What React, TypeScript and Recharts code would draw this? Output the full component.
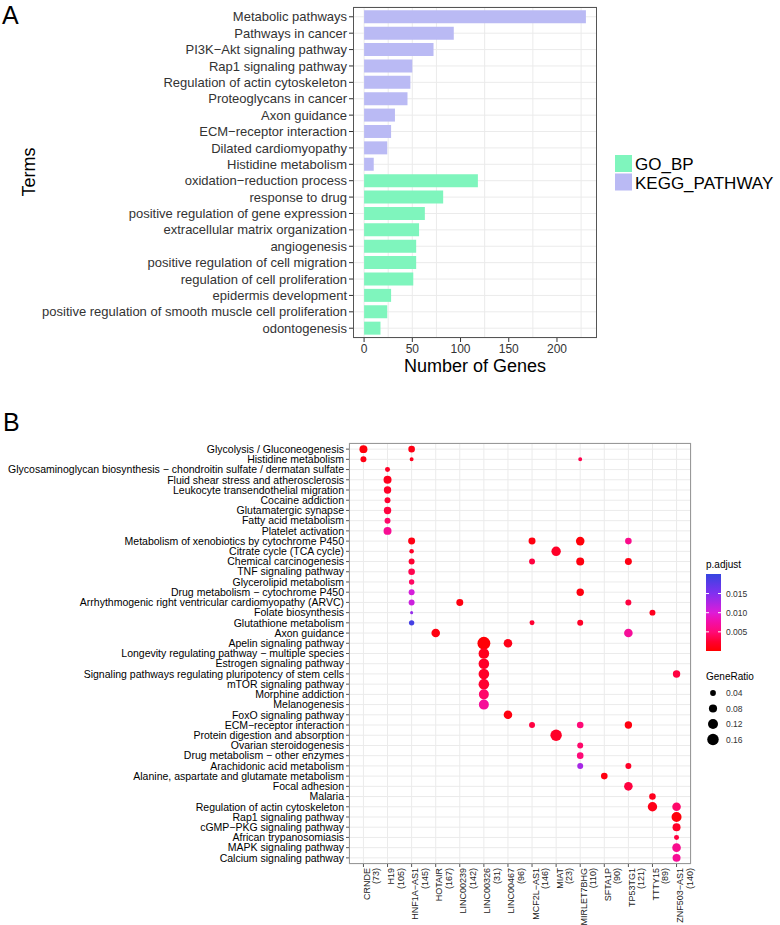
import React from 'react';
import {
  BarChart,
  Bar,
  XAxis,
  YAxis,
  ZAxis,
  CartesianGrid,
  Cell,
  ScatterChart,
  Scatter,
} from 'recharts';

const FONT = '"Liberation Sans", Arial, Helvetica, sans-serif';

// ---- Panel A: enriched terms ----
const terms = [
  'Metabolic pathways',
  'Pathways in cancer',
  'PI3K\u2212Akt signaling pathway',
  'Rap1 signaling pathway',
  'Regulation of actin cytoskeleton',
  'Proteoglycans in cancer',
  'Axon guidance',
  'ECM\u2212receptor interaction',
  'Dilated cardiomyopathy',
  'Histidine metabolism',
  'oxidation\u2212reduction process',
  'response to drug',
  'positive regulation of gene expression',
  'extracellular matrix organization',
  'angiogenesis',
  'positive regulation of cell migration',
  'regulation of cell proliferation',
  'epidermis development',
  'positive regulation of smooth muscle cell proliferation',
  'odontogenesis',
];
const geneCounts = [230, 93, 72, 50, 48, 45, 32, 28, 24, 10, 118, 82, 63, 57, 54, 54, 51, 28, 24, 17];
const termSources = [
  'KEGG_PATHWAY', 'KEGG_PATHWAY', 'KEGG_PATHWAY', 'KEGG_PATHWAY', 'KEGG_PATHWAY',
  'KEGG_PATHWAY', 'KEGG_PATHWAY', 'KEGG_PATHWAY', 'KEGG_PATHWAY', 'KEGG_PATHWAY',
  'GO_BP', 'GO_BP', 'GO_BP', 'GO_BP', 'GO_BP',
  'GO_BP', 'GO_BP', 'GO_BP', 'GO_BP', 'GO_BP',
];
const sourceNames = ['GO_BP', 'KEGG_PATHWAY'];
const countTicks = [0, 50, 100, 150, 200];
const countGrid = [0, 25, 50, 75, 100, 125, 150, 175, 200, 225];

const SOURCE_COLORS: Record<string, string> = {
  GO_BP: '#7FF5BD',
  KEGG_PATHWAY: '#BABAF4',
};

// ---- Panel B: lncRNA pathway enrichment ----
const lncRNAs = [
  'CRNDE', 'H19', 'HNF1A\u2212AS1', 'HOTAIR', 'LINC00239', 'LINC00326', 'LINC00467',
  'MCF2L\u2212AS1', 'MIAT', 'MIRLET7BHG', 'SFTA1P', 'TP53TG1', 'TTTY15', 'ZNF503\u2212AS1',
];
const lncGeneCounts = [73, 105, 145, 167, 142, 31, 96, 146, 23, 110, 90, 121, 89, 140];

const pathways = [
  'Glycolysis / Gluconeogenesis',
  'Histidine metabolism',
  'Glycosaminoglycan biosynthesis \u2212 chondroitin sulfate / dermatan sulfate',
  'Fluid shear stress and atherosclerosis',
  'Leukocyte transendothelial migration',
  'Cocaine addiction',
  'Glutamatergic synapse',
  'Fatty acid metabolism',
  'Platelet activation',
  'Metabolism of xenobiotics by cytochrome P450',
  'Citrate cycle (TCA cycle)',
  'Chemical carcinogenesis',
  'TNF signaling pathway',
  'Glycerolipid metabolism',
  'Drug metabolism \u2212 cytochrome P450',
  'Arrhythmogenic right ventricular cardiomyopathy (ARVC)',
  'Folate biosynthesis',
  'Glutathione metabolism',
  'Axon guidance',
  'Apelin signaling pathway',
  'Longevity regulating pathway \u2212 multiple species',
  'Estrogen signaling pathway',
  'Signaling pathways regulating pluripotency of stem cells',
  'mTOR signaling pathway',
  'Morphine addiction',
  'Melanogenesis',
  'FoxO signaling pathway',
  'ECM\u2212receptor interaction',
  'Protein digestion and absorption',
  'Ovarian steroidogenesis',
  'Drug metabolism \u2212 other enzymes',
  'Arachidonic acid metabolism',
  'Alanine, aspartate and glutamate metabolism',
  'Focal adhesion',
  'Malaria',
  'Regulation of actin cytoskeleton',
  'Rap1 signaling pathway',
  'cGMP\u2212PKG signaling pathway',
  'African trypanosomiasis',
  'MAPK signaling pathway',
  'Calcium signaling pathway',
];

// [pathway, lncRNA, GeneRatio, p.adjust]
const enrichment: [string, string, number, number][] = [
  [pathways[0], 'CRNDE', 0.077, 0.0005],
  [pathways[0], lncRNAs[2], 0.053, 0.001],
  [pathways[1], 'CRNDE', 0.043, 0.001],
  [pathways[1], lncRNAs[2], 0.019, 0.0015],
  [pathways[1], 'MIRLET7BHG', 0.019, 0.0035],
  [pathways[2], 'H19', 0.03, 0.002],
  [pathways[3], 'H19', 0.077, 0.0015],
  [pathways[4], 'H19', 0.066, 0.002],
  [pathways[5], 'H19', 0.043, 0.0025],
  [pathways[6], 'H19', 0.066, 0.003],
  [pathways[7], 'H19', 0.043, 0.0045],
  [pathways[8], 'H19', 0.077, 0.0065],
  [pathways[9], lncRNAs[2], 0.059, 0.001],
  [pathways[9], lncRNAs[7], 0.059, 0.0008],
  [pathways[9], 'MIRLET7BHG', 0.089, 0.0005],
  [pathways[9], 'TP53TG1', 0.053, 0.006],
  [pathways[10], lncRNAs[2], 0.025, 0.002],
  [pathways[10], 'MIAT', 0.107, 0.002],
  [pathways[11], lncRNAs[2], 0.043, 0.0025],
  [pathways[11], lncRNAs[7], 0.043, 0.003],
  [pathways[11], 'MIRLET7BHG', 0.077, 0.0008],
  [pathways[11], 'TP53TG1', 0.059, 0.001],
  [pathways[12], lncRNAs[2], 0.053, 0.0035],
  [pathways[13], lncRNAs[2], 0.035, 0.0042],
  [pathways[14], lncRNAs[2], 0.043, 0.0105],
  [pathways[14], 'MIRLET7BHG', 0.066, 0.0008],
  [pathways[15], lncRNAs[2], 0.043, 0.011],
  [pathways[15], 'LINC00239', 0.059, 0.0008],
  [pathways[15], 'TP53TG1', 0.043, 0.003],
  [pathways[16], lncRNAs[2], 0.011, 0.014],
  [pathways[16], 'TTTY15', 0.043, 0.0015],
  [pathways[17], lncRNAs[2], 0.035, 0.019],
  [pathways[17], lncRNAs[7], 0.03, 0.0025],
  [pathways[17], 'MIRLET7BHG', 0.043, 0.002],
  [pathways[18], 'HOTAIR', 0.089, 0.0008],
  [pathways[18], 'TP53TG1', 0.089, 0.0068],
  [pathways[19], 'LINC00326', 0.2, 0.0003],
  [pathways[19], 'LINC00467', 0.089, 0.0012],
  [pathways[20], 'LINC00326', 0.136, 0.0015],
  [pathways[21], 'LINC00326', 0.136, 0.002],
  [pathways[22], 'LINC00326', 0.136, 0.002],
  [pathways[22], lncRNAs[13], 0.066, 0.003],
  [pathways[23], 'LINC00326', 0.136, 0.0025],
  [pathways[24], 'LINC00326', 0.121, 0.0045],
  [pathways[25], 'LINC00326', 0.121, 0.0068],
  [pathways[26], 'LINC00467', 0.089, 0.0008],
  [pathways[27], lncRNAs[7], 0.043, 0.003],
  [pathways[27], 'MIRLET7BHG', 0.053, 0.005],
  [pathways[27], 'TP53TG1', 0.066, 0.0008],
  [pathways[28], 'MIAT', 0.157, 0.002],
  [pathways[29], 'MIRLET7BHG', 0.043, 0.0045],
  [pathways[30], 'MIRLET7BHG', 0.053, 0.005],
  [pathways[31], 'MIRLET7BHG', 0.043, 0.013],
  [pathways[31], 'TP53TG1', 0.043, 0.002],
  [pathways[32], 'SFTA1P', 0.053, 0.0008],
  [pathways[33], 'TP53TG1', 0.089, 0.003],
  [pathways[34], 'TTTY15', 0.053, 0.0015],
  [pathways[35], 'TTTY15', 0.107, 0.0012],
  [pathways[35], lncRNAs[13], 0.089, 0.0045],
  [pathways[36], lncRNAs[13], 0.121, 0.0005],
  [pathways[37], lncRNAs[13], 0.077, 0.002],
  [pathways[38], lncRNAs[13], 0.03, 0.003],
  [pathways[39], lncRNAs[13], 0.089, 0.0062],
  [pathways[40], lncRNAs[13], 0.077, 0.0066],
];

const padjBreaks = [0.005, 0.01, 0.015];
const ratioBreaks = [0.04, 0.08, 0.12, 0.16];

// colour scale for p.adjust (low = red, high = blue)
const PADJ_MAX = 0.0201;
const colorStops: [number, string][] = [
  [0, '#FF0000'],
  [0.12, '#FF0030'],
  [0.25, '#FF0A78'],
  [0.4, '#F010B0'],
  [0.5, '#DD1CD8'],
  [0.75, '#8030F0'],
  [1, '#3545E0'],
];

const hex = (c: string) => [1, 3, 5].map(i => parseInt(c.slice(i, i + 2), 16));

function padjColor(p: number) {
  const t = Math.max(0, Math.min(1, p / PADJ_MAX));
  for (let i = 1; i < colorStops.length; i++) {
    if (t <= colorStops[i][0]) {
      const [t0, c0] = colorStops[i - 1];
      const [t1, c1] = colorStops[i];
      const f = (t - t0) / (t1 - t0);
      const a = hex(c0);
      const b = hex(c1);
      const rgb = a.map((v, k) => Math.round(v + (b[k] - v) * f));
      return `rgb(${rgb.join(',')})`;
    }
  }
  return colorStops[colorStops.length - 1][1];
}

// size scale: symbol area grows linearly with GeneRatio
const RATIO_DOMAIN = [0, 0.25];
const AREA_RANGE = [0, 162.5];
const ratioRadius = (v: number) => Math.sqrt((v / RATIO_DOMAIN[1]) * AREA_RANGE[1] / Math.PI);

const XTick = (props: any) => {
  const { x, y, payload } = props;
  const i = payload.value;
  return (
    <g transform={`translate(${x},${y})`}>
      <text transform="rotate(-90)" textAnchor="end" fontSize={9} fill="#1a1a1a" fontFamily={FONT}>
        <tspan x={1} y={6.5}>{lncRNAs[i]}</tspan>
        <tspan x={1} y={16}>({lncGeneCounts[i]})</tspan>
      </text>
    </g>
  );
};

// plain text tick, so long pathway names stay on one line
const PathwayTick = (props: any) => {
  const { x, y, payload } = props;
  return (
    <text x={x} y={y} dy="0.355em" textAnchor="end" fontSize={10.5} fill="#000" fontFamily={FONT}>
      {pathways[payload.value - 1]}
    </text>
  );
};

export default function App() {
  const barData = terms.map((term, i) => ({ term, genes: geneCounts[i], source: termSources[i] }));

  const dotData = enrichment.map(([pathway, lnc, ratio, padj]) => ({
    x: lncRNAs.indexOf(lnc),
    y: pathways.indexOf(pathway) + 1,
    ratio,
    padj,
  }));

  const colTicks = lncRNAs.map((_, i) => i);
  const rowTicks = pathways.map((_, i) => i + 1);

  // colour bar geometry
  const cbTop = 574;
  const cbBottom = 651;
  const cbY = (p: number) => cbBottom - (p / PADJ_MAX) * (cbBottom - cbTop);

  return (
    <div style={{ position: 'relative', width: 780, height: 925, background: '#fff', overflow: 'hidden', fontFamily: FONT }}>
      <style>{'body{margin:0}'}</style>

      <div style={{ position: 'absolute', left: 0, top: 0 }}>
        <BarChart
          width={600}
          height={380}
          data={barData}
          layout="vertical"
          margin={{ top: 7, right: 3, bottom: 0, left: 0 }}
          barCategoryGap="10%"
        >
          <CartesianGrid stroke="#EBEBEB" verticalValues={countGrid} />
          <XAxis
            type="number"
            dataKey="genes"
            domain={[-11.5, 241.5]}
            ticks={countTicks}
            allowDataOverflow
            height={42}
            axisLine={false}
            tickSize={4}
            tickLine={{ stroke: '#333' }}
            tick={{ fontSize: 12, fill: '#333', fontFamily: FONT }}
          />
          <YAxis
            type="category"
            dataKey="term"
            width={353}
            interval={0}
            axisLine={false}
            tickSize={4}
            padding={{ top: 1.6, bottom: 1.6 }}
            tickLine={{ stroke: '#333' }}
            tick={{ fontSize: 13, fill: '#333', fontFamily: FONT }}
          />
          <Bar dataKey="genes" isAnimationActive={false}>
            {barData.map((d, i) => (
              <Cell key={`bar-${i}`} fill={SOURCE_COLORS[d.source]} />
            ))}
          </Bar>
        </BarChart>
      </div>

      <div style={{ position: 'absolute', left: 0, top: 400 }}>
        <ScatterChart width={700} height={525} margin={{ top: 43, right: 9, bottom: 0, left: 0 }}>
          <CartesianGrid stroke="#EBEBEB" />
          <XAxis
            type="number"
            dataKey="x"
            domain={[-0.6, 13.6]}
            ticks={colTicks}
            interval={0}
            allowDataOverflow
            height={61}
            axisLine={false}
            tickSize={3}
            tickLine={{ stroke: '#555' }}
            tick={(p: any) => <XTick {...p} />}
          />
          <YAxis
            type="number"
            dataKey="y"
            domain={[0.4, 41.6]}
            reversed
            ticks={rowTicks}
            interval={0}
            allowDataOverflow
            width={349}
            axisLine={false}
            tickSize={3}
            tickLine={{ stroke: '#555' }}
            tick={(p: any) => <PathwayTick {...p} />}
          />
          <ZAxis type="number" dataKey="ratio" domain={RATIO_DOMAIN} range={AREA_RANGE} />
          <Scatter data={dotData} shape="circle" isAnimationActive={false}>
            {dotData.map((d, i) => (
              <Cell key={`dot-${i}`} fill={padjColor(d.padj)} />
            ))}
          </Scatter>
        </ScatterChart>
      </div>

      <svg width={780} height={925} style={{ position: 'absolute', left: 0, top: 0, pointerEvents: 'none' }} fontFamily={FONT}>
        <defs>
          <linearGradient id="padjGrad" x1="0" y1="1" x2="0" y2="0">
            {colorStops.map(([t, c]) => (
              <stop key={t} offset={t} stopColor={c} />
            ))}
          </linearGradient>
        </defs>

        {/* Panel A */}
        <text x={2} y={24} fontSize={25} fill="#000">A</text>
        <rect x={353.5} y={7.5} width={243} height={330} fill="none" stroke="#555" strokeWidth={1} />
        <text transform="translate(35,172) rotate(-90)" textAnchor="middle" fontSize={18} fill="#000">Terms</text>
        <text x={475} y={372} textAnchor="middle" fontSize={18} fill="#000">Number of Genes</text>
        {sourceNames.map((s, i) => (
          <g key={s}>
            <rect x={615} y={155 + i * 18.5} width={17} height={17} fill={SOURCE_COLORS[s]} />
            <text x={635} y={170 + i * 18.5} fontSize={17} fill="#000">{s}</text>
          </g>
        ))}

        {/* Panel B */}
        <text x={3} y={431} fontSize={25} fill="#000">B</text>
        <rect x={349.5} y={443.5} width={341} height={420} fill="none" stroke="#999" strokeWidth={1} />

        <text x={706} y={568} fontSize={10} fill="#000">p.adjust</text>
        <rect x={706} y={cbTop} width={15} height={cbBottom - cbTop} fill="url(#padjGrad)" />
        {padjBreaks.map(p => (
          <g key={p}>
            <line x1={706} x2={709} y1={cbY(p)} y2={cbY(p)} stroke="#fff" strokeWidth={1} />
            <line x1={718} x2={721} y1={cbY(p)} y2={cbY(p)} stroke="#fff" strokeWidth={1} />
            <text x={726} y={cbY(p) + 3} fontSize={8.5} fill="#333">{p.toFixed(3)}</text>
          </g>
        ))}

        <text x={706} y={680} fontSize={10} fill="#000">GeneRatio</text>
        {ratioBreaks.map((v, i) => (
          <g key={v}>
            <circle cx={713} cy={693 + i * 15.5} r={ratioRadius(v)} fill="#000" />
            <text x={726} y={696 + i * 15.5} fontSize={8.5} fill="#333">{v.toFixed(2)}</text>
          </g>
        ))}
      </svg>
    </div>
  );
}
